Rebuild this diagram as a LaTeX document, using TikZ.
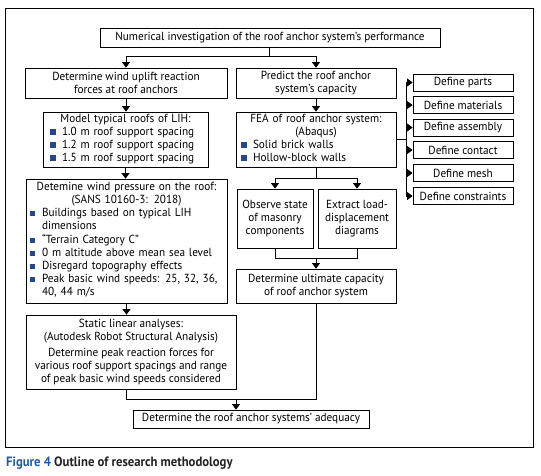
\documentclass[tikz,border=0pt]{standalone}
\usepackage{fontspec}
\setmainfont[FakeStretch=0.96]{PT Sans}
\usetikzlibrary{arrows.meta}
\definecolor{bulblue}{RGB}{40,70,140}
\definecolor{capblue}{RGB}{30,90,165}
\definecolor{capgray}{RGB}{35,35,35}
\newcommand{\bodyfont}{\fontsize{11.7}{13}\selectfont}
\newcommand{\bitem}[1]{\par\noindent\makebox[12pt][l]{\textcolor{bulblue}{\rule[0.3pt]{5.5pt}{5.5pt}}}\parbox[t]{\dimexpr\linewidth-12pt\relax}{\raggedright #1\strut}\par\prevdepth=\dp\strutbox}
\newcommand{\ctr}[1]{{\centering #1\par}}
\begin{document}
\begin{tikzpicture}[x=1pt,y=-1pt,
  box/.style={draw, line width=0.8pt, inner sep=0pt, align=center, font=\bodyfont},
  blist/.style={box, align=left, inner xsep=5pt},
  line/.style={draw, line width=0.8pt},
  arr/.style={line, -{Triangle[length=5.5pt,width=8pt]}}]
\useasboundingbox (0,0) rectangle (541,475);
\draw[line width=0.8pt] (5,8) rectangle (533,447);

\node[box, minimum width=340, minimum height=19] (top) at (270,37.5) {Numerical investigation of the roof anchor system’s performance};
\node[box, minimum width=202, minimum height=30] (wind) at (126,83) {Determine wind uplift reaction\\forces at roof anchors};
\node[box, minimum width=160, minimum height=30] (predict) at (316,83) {Predict the roof anchor\\system’s capacity};
\node[blist, inner xsep=7pt, text width=151, minimum height=55] (model) at (125.5,139.5) {\ctr{Model typical roofs of LIH:}\bitem{1.0 m roof support spacing}\bitem{1.2 m roof support spacing}\bitem{1.5 m roof support spacing}};
\node[blist, text width=150, minimum height=55] (fea) at (316,139.5) {\ctr{FEA of roof anchor system:\\(Abaqus)}\bitem{Solid brick walls}\bitem{Hollow-block walls}};

\node[box, minimum width=100, minimum height=17] (parts) at (463,82.5) {Define parts};
\node[box, minimum width=100, minimum height=17] (materials) at (463,105) {Define materials};
\node[box, minimum width=100, minimum height=17] (assembly) at (463,127.5) {Define assembly};
\node[box, minimum width=100, minimum height=17] (contact) at (463,150) {Define contact};
\node[box, minimum width=100, minimum height=17] (mesh) at (463,173) {Define mesh};
\node[box, minimum width=100, minimum height=17] (constraints) at (463,196) {Define constraints};

\node[blist, inner xsep=4pt, text width=193, minimum height=124] (pressure) at (126.5,241) {\ctr{Detemine wind pressure on the roof:\\(SANS 10160-3: 2018)}\bitem{Buildings based on typical LIH\\dimensions}\bitem{“Terrain Category C”}\bitem{0 m altitude above mean sea level}\bitem{Disregard topography effects}\bitem{Peak basic wind speeds: 25, 32, 36,\\40, 44 m/s}};
\node[box, minimum width=76, minimum height=59] (observe) at (275,218.5) {Observe state\\of masonry\\components};
\node[box, minimum width=78, minimum height=59] (extract) at (357,218.5) {Extract load-\\displacement\\diagrams};
\node[box, minimum width=160, minimum height=34] (ultimate) at (316,286) {Determine ultimate capacity\\of roof anchor system};
\node[box, minimum width=210, minimum height=74] (static) at (131,352) {Static linear analyses:\\(Autodesk Robot Structural Analysis)\\[2.5pt]Determine peak reaction forces for\\various roof support spacings and range\\of peak basic wind speeds considered};
\node[box, minimum width=236, minimum height=18] (final) at (251,419) {Determine the roof anchor systems’ adequacy};

\node[anchor=west, inner sep=0pt, font=\fontsize{13.5}{15}\selectfont\bfseries\addfontfeature{FakeStretch=0.94}] (caption) at (6,463) {\textcolor{capblue}{Figure 4} \textcolor{capgray}{Outline of research methodology}};

% connectors
\coordinate (j1) at (269,56);
\draw[line] (j1 |- top.south) -- (j1);
\draw[arr] (j1) -| (wind.north);
\draw[arr] (j1) -| (predict.north);
\draw[arr] (wind.south) -- (wind.south |- model.north);
\draw[arr] (model.south) -- (model.south |- pressure.north);
\draw[arr] (pressure.south) -- (pressure.south |- static.north);
\draw[arr] (predict.south) -- (fea.north);

\coordinate (j2) at (316,178);
\draw[line] (fea.south) -- (j2);
\draw[arr] (j2) -| (observe.north);
\draw[arr] (j2) -| (extract.north);
\coordinate (j3) at (316,258);
\draw[line] (observe.south) |- (j3);
\draw[line] (extract.south) |- (j3);
\draw[arr] (j3) -- (ultimate.north);

\coordinate (j4) at (236,399);
\draw[line] (ultimate.south) |- (j4);
\draw[line] (static.south -| pressure.south) |- (j4);
\draw[arr] (j4) -- (j4 |- final.north);

\coordinate (b) at (406,138);
\draw[line] (fea.east) -- (fea.east -| b);
\draw[line] (b |- parts.west) -- (b |- constraints.west);
\foreach \n in {parts,materials,assembly,contact,mesh,constraints}
  \draw[arr] (b |- \n.west) -- (\n.west);
\end{tikzpicture}
\end{document}
